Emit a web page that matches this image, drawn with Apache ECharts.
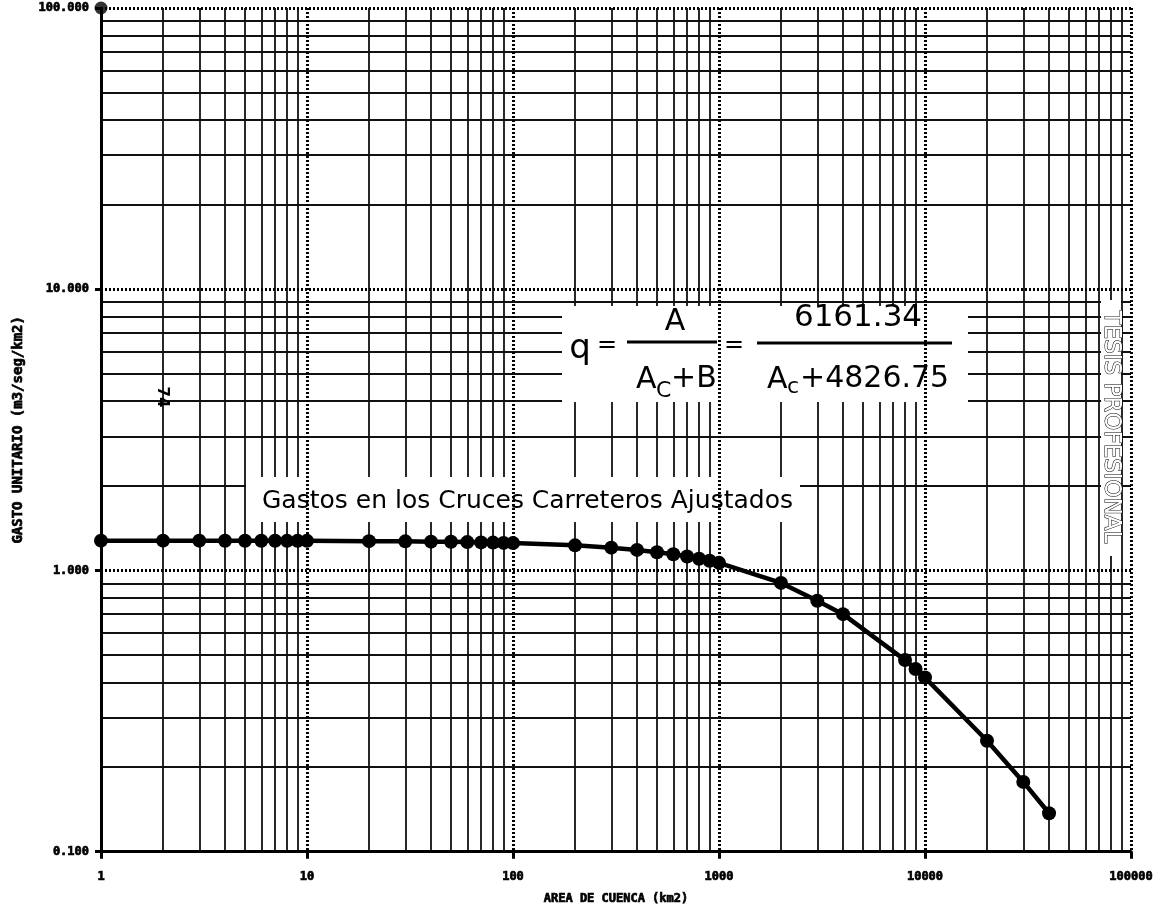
<!DOCTYPE html>
<html>
<head>
<meta charset="utf-8">
<script src="https://cdn.jsdelivr.net/npm/echarts@6/dist/echarts.min.js"></script>
<style>
  html, body { margin: 0; padding: 0; background: #fff; }
  #chart { width: 1163px; height: 910px; }
</style>
</head>
<body>
<div id="chart"></div>
<script>
// Área de cuenca (km2) de cada cruce carretero
const areaKm2 = [1, 2, 3, 4, 5, 6, 7, 8, 9, 10,
  20, 30, 40, 50, 60, 70, 80, 90, 100,
  200, 300, 400, 500, 600, 700, 800, 900, 1000,
  2000, 3000, 4000, 8000, 9000, 10000, 20000, 30000, 40000];

// Gasto unitario ajustado (m3/seg/km2)
const gastoUnitario = [1.276, 1.276, 1.276, 1.275, 1.275, 1.275, 1.275, 1.274, 1.274, 1.274,
  1.271, 1.269, 1.266, 1.264, 1.261, 1.258, 1.256, 1.253, 1.251,
  1.228, 1.205, 1.183, 1.161, 1.141, 1.121, 1.101, 1.083, 1.064,
  0.903, 0.780, 0.699, 0.480, 0.446, 0.416, 0.248, 0.177, 0.137];

// Punto de referencia en la esquina superior del eje
const marcaEje = [[1, 100]];

// Décadas de cada eje
const decadasX = [1, 10, 100, 1000, 10000];
const decadasY = [0.1, 1, 10];
const multiplos = [2, 3, 4, 5, 6, 7, 8, 9];

const xMenores = [];
decadasX.forEach(d => multiplos.forEach(m => xMenores.push(d * m)));
const yMenores = [];
decadasY.forEach(d => multiplos.forEach(m => yMenores.push(d * m)));

const chart = echarts.init(document.getElementById('chart'), null, { renderer: 'canvas' });

const fuenteEje = '"DejaVu Sans Mono", monospace';
const fuenteRotulo = '"DejaVu Sans", sans-serif';

const lineasMenores = [
  ...xMenores.map(v => ({ xAxis: v })),
  ...yMenores.map(v => ({ yAxis: v }))
];

const punteado = { color: '#000', width: 3, type: [2, 2] };
const textoEje = {
  fontFamily: fuenteEje, fontWeight: 'bold', fontSize: 12, color: '#000',
  textBorderColor: '#000', textBorderWidth: 0.7
};

const option = {
  backgroundColor: '#fff',
  animation: false,
  grid: { left: 101, right: 32, top: 8, bottom: 56, containLabel: false },
  xAxis: {
    type: 'log',
    logBase: 10,
    min: 1,
    max: 100000,
    z: 10,
    name: 'AREA DE CUENCA (km2)',
    nameLocation: 'middle',
    nameGap: 41,
    nameTextStyle: Object.assign({}, textoEje),
    axisLine: { onZero: false, lineStyle: { color: '#000', width: 3 } },
    axisTick: { show: true, length: 7, lineStyle: { color: '#000', width: 3 } },
    axisLabel: Object.assign({ margin: 19, formatter: v => String(Math.round(v)) }, textoEje),
    splitLine: { show: true, lineStyle: punteado },
    minorTick: { show: false },
    minorSplitLine: { show: false }
  },
  yAxis: {
    type: 'log',
    logBase: 10,
    min: 0.1,
    max: 100,
    z: 10,
    name: 'GASTO UNITARIO (m3/seg/km2)',
    nameLocation: 'middle',
    nameRotate: 90,
    nameGap: 76,
    nameTextStyle: Object.assign({}, textoEje, { fontSize: 14 }),
    axisLine: { onZero: false, lineStyle: { color: '#000', width: 3 } },
    axisTick: { show: true, length: 6, lineStyle: { color: '#000', width: 3 } },
    axisLabel: Object.assign({ margin: 12, formatter: v => Number(v).toFixed(3) }, textoEje),
    splitLine: { show: true, lineStyle: punteado },
    minorTick: { show: false },
    minorSplitLine: { show: false }
  },
  series: [
    {
      // retícula logarítmica intermedia (2..9 de cada década)
      type: 'line',
      z: 1,
      data: [[1, 0.1]],
      showSymbol: false,
      symbol: 'none',
      lineStyle: { width: 0 },
      silent: true,
      markLine: {
        z: 1,
        silent: true,
        animation: false,
        symbol: ['none', 'none'],
        label: { show: false },
        lineStyle: { color: '#111', width: 1.8, type: 'solid' },
        data: lineasMenores
      }
    },
    {
      name: 'Gastos ajustados',
      type: 'line',
      z: 20,
      data: areaKm2.map((a, i) => [a, gastoUnitario[i]]),
      symbol: 'circle',
      symbolSize: 14,
      showAllSymbol: true,
      clip: false,
      itemStyle: { color: '#000' },
      lineStyle: { color: '#000', width: 4.5 }
    },
    {
      type: 'scatter',
      z: 20,
      data: marcaEje,
      symbol: 'circle',
      symbolSize: 13,
      clip: false,
      itemStyle: { color: '#000' }
    }
  ],
  graphic: {
    z: 6,
    elements: [
      // recuadro de la ecuación
      { type: 'rect', z: 6, shape: { x: 562, y: 306, width: 406, height: 96 }, style: { fill: '#fff' } },
      { type: 'text', z: 7, style: { x: 580, y: 349, text: 'q', font: '34px ' + fuenteRotulo, fill: '#000', textAlign: 'center', textVerticalAlign: 'middle' } },
      { type: 'text', z: 7, style: { x: 607, y: 346, text: '=', font: '24px ' + fuenteRotulo, fill: '#000', textAlign: 'center', textVerticalAlign: 'middle' } },
      { type: 'line', z: 7, shape: { x1: 627, y1: 342, x2: 717, y2: 342 }, style: { stroke: '#000', lineWidth: 3 } },
      { type: 'text', z: 7, style: { x: 675, y: 322, text: 'A', font: '30px ' + fuenteRotulo, fill: '#000', textAlign: 'center', textVerticalAlign: 'middle' } },
      { type: 'text', z: 7, style: { x: 636, y: 380, text: 'A', font: '30px ' + fuenteRotulo, fill: '#000', textAlign: 'left', textVerticalAlign: 'middle' } },
      { type: 'text', z: 7, style: { x: 656, y: 391, text: 'C', font: '22px ' + fuenteRotulo, fill: '#000', textAlign: 'left', textVerticalAlign: 'middle' } },
      { type: 'text', z: 7, style: { x: 671, y: 379, text: '+B', font: '30px ' + fuenteRotulo, fill: '#000', textAlign: 'left', textVerticalAlign: 'middle' } },
      { type: 'text', z: 7, style: { x: 734, y: 346, text: '=', font: '24px ' + fuenteRotulo, fill: '#000', textAlign: 'center', textVerticalAlign: 'middle' } },
      { type: 'line', z: 7, shape: { x1: 757, y1: 343, x2: 952, y2: 343 }, style: { stroke: '#000', lineWidth: 3 } },
      { type: 'text', z: 7, style: { x: 858, y: 318, text: '6161.34', font: '31px ' + fuenteRotulo, fill: '#000', textAlign: 'center', textVerticalAlign: 'middle' } },
      { type: 'text', z: 7, style: { x: 767, y: 380, text: 'A', font: '30px ' + fuenteRotulo, fill: '#000', textAlign: 'left', textVerticalAlign: 'middle' } },
      { type: 'text', z: 7, style: { x: 787, y: 387, text: 'c', font: '22px ' + fuenteRotulo, fill: '#000', textAlign: 'left', textVerticalAlign: 'middle' } },
      { type: 'text', z: 7, style: { x: 800, y: 379, text: '+4826.75', font: '30px ' + fuenteRotulo, fill: '#000', textAlign: 'left', textVerticalAlign: 'middle' } },

      // rótulo de la curva
      { type: 'rect', z: 6, shape: { x: 246, y: 477, width: 554, height: 45 }, style: { fill: '#fff' } },
      { type: 'text', z: 7, style: { x: 262, y: 501, text: 'Gastos en los Cruces Carreteros Ajustados', font: '25px ' + fuenteRotulo, fill: '#000', textAlign: 'left', textVerticalAlign: 'middle' } },

      // leyenda vertical
      { type: 'rect', z: 6, shape: { x: 1101, y: 300, width: 20, height: 256 }, style: { fill: '#fff' } },
      { type: 'text', z: 7, x: 1111, y: 427, rotation: -Math.PI / 2,
        style: { x: 0, y: 0, text: 'TESIS PROFESIONAL', font: '23px ' + fuenteRotulo, fill: '#fff', stroke: '#000', lineWidth: 1, textAlign: 'center', textVerticalAlign: 'middle' } },

      // número de página
      { type: 'text', z: 7, x: 162, y: 397, rotation: -Math.PI / 2,
        style: { x: 0, y: 0, text: '74', font: 'bold 15px ' + fuenteRotulo, fill: '#000', textAlign: 'center', textVerticalAlign: 'middle' } }
    ]
  }
};

chart.setOption(option);
</script>
</body>
</html>
